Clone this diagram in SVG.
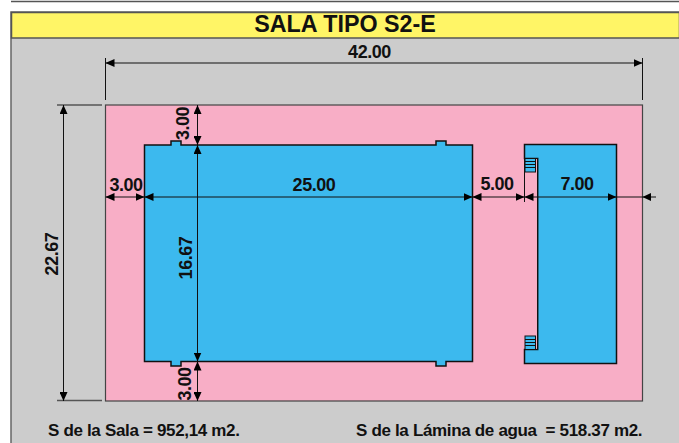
<svg xmlns="http://www.w3.org/2000/svg" width="679" height="443" viewBox="0 0 679 443">
<style>
text{font-family:"Liberation Sans",Arial,sans-serif;font-weight:bold;fill:#111}
.d{font-size:18px;letter-spacing:-.45px;text-anchor:middle}
.n{font-size:17px;letter-spacing:-.33px}
.l{stroke:#111;stroke-width:1;fill:none}
.g{stroke:#555;stroke-width:1.5;fill:none}
.w{stroke:#111;stroke-width:1.5;fill:#3cb9ee}
</style>
<defs>
<marker id="a" markerUnits="userSpaceOnUse" markerWidth="9" markerHeight="8" refX="9" refY="4" orient="auto-start-reverse" viewBox="0 0 9 8"><path d="M0 0L9 4L0 8Z" fill="#000"/></marker>
</defs>
<rect width="679" height="443" fill="#fff"/>
<g id="frame">
<path d="M11 1.5H679" class="g"/>
<rect x="11" y="12" width="669" height="432" fill="#ccc" stroke="#666" stroke-width="1.5"/>
<rect x="11.5" y="12.5" width="668" height="25.5" fill="#fff566" stroke="#555" stroke-width="1.5"/>
<text x="345" y="32" text-anchor="middle" font-size="23.3">SALA TIPO S2-E</text>
</g>
<g id="sala"><rect x="105.5" y="105" width="537" height="296" fill="#f8aec6" stroke="#444" stroke-width="1.2"/></g>
<g id="piscina"><path class="w" d="M144.5 145H171V141H181V145H436V141H446V145H472.5V361.5H446V366H436V361.5H181V366H171V361.5H144.5Z"/></g>
<g id="piscina-ensenanza">
<path class="w" d="M524.5 144.5H616.5V363.5H524.5V349.5H537.7V158.5H524.5Z"/>
<path fill="#f8aec6" d="M525.3 159.3H536.9V348.7H525.3Z"/>
<g fill="#3cb9ee" stroke="#111"><rect x="525" y="158.5" width="10.5" height="13.5"/><path d="M525 161.5H535.5M525 164.5H535.5M525 167.5H535.5"/><rect x="525" y="336" width="10.5" height="13.5"/><path d="M525 339.5H535.5M525 342.5H535.5M525 345.5H535.5"/></g>
</g>
<g id="connectors">
<path class="l" d="M105.5 58V100M642.5 58V100M524.5 144V202"/>
<path class="g" d="M57 105H102M57 400.5H102" stroke-width="1"/>
<path class="l" d="M105.5 63H642.5" marker-start="url(#a)" marker-end="url(#a)"/>
<path class="l" d="M63.5 105V401" marker-start="url(#a)" marker-end="url(#a)"/>
<path class="l" d="M197.5 105V145" marker-start="url(#a)" marker-end="url(#a)"/>
<path class="l" d="M197.5 145V361.5" marker-start="url(#a)" marker-end="url(#a)"/>
<path class="l" d="M197.5 361.5V401" marker-start="url(#a)" marker-end="url(#a)"/>
<path class="l" d="M105.5 197H144.5" marker-start="url(#a)" marker-end="url(#a)"/>
<path class="l" d="M144.5 197H472.5" marker-start="url(#a)" marker-end="url(#a)"/>
<path class="l" d="M472.5 197H524.5" marker-start="url(#a)" marker-end="url(#a)"/>
<path class="l" d="M524.5 197H616.5" marker-start="url(#a)" marker-end="url(#a)"/>
<path class="l" d="M616.5 197H656" stroke="#444"/>
<path d="M642.5 197L651 193V201Z" fill="#000"/>
</g>
<g id="labels">
<text class="d" x="369.5" y="57.5">42.00</text>
<text class="d" x="126" y="190.5">3.00</text>
<text class="d" x="314" y="190.5">25.00</text>
<text class="d" x="497" y="190">5.00</text>
<text class="d" x="577" y="190">7.00</text>
<text class="d" transform="translate(58 254) rotate(-90)">22.67</text>
<text class="d" transform="translate(192 258) rotate(-90)">16.67</text>
<text class="d" transform="translate(189 123.5) rotate(-90)">3.00</text>
<text class="d" transform="translate(191 384) rotate(-90)">3.00</text>
<text class="n" x="48" y="436">S de la Sala = 952,14 m2.</text>
<text class="n" x="356" y="436" xml:space="preserve">S de la Lámina de agua  = 518.37 m2.</text>
</g>
</svg>
